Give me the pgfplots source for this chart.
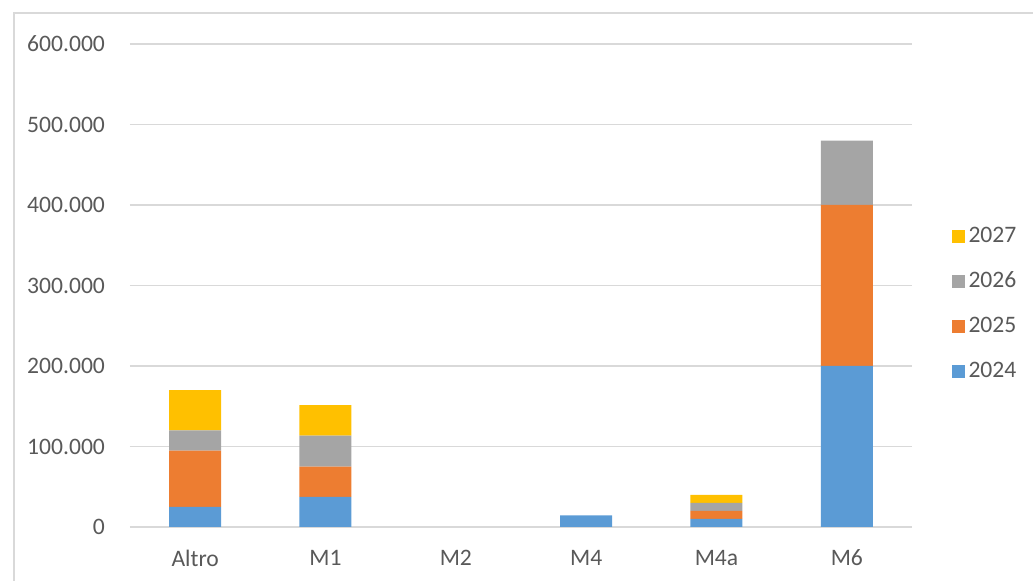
\documentclass[border=0pt]{standalone}
\usepackage{pgfplots}
\pgfplotsset{compat=1.18}
\usepackage{fontspec}
\setmainfont{Carlito}
\definecolor{c24}{HTML}{5B9BD5}
\definecolor{c25}{HTML}{ED7D31}
\definecolor{c26}{HTML}{A5A5A5}
\definecolor{c27}{HTML}{FFC000}
\definecolor{gridc}{HTML}{D9D9D9}
\definecolor{txt}{HTML}{595959}
\begin{document}
\begin{tikzpicture}[font=\fontsize{11.8}{14}\selectfont]
\useasboundingbox (0,0) rectangle (516.5pt,290.5pt);
\begin{scope}[overlay]
\clip (0,0) rectangle (516.5pt,290.5pt);
\draw[gridc, line width=0.8pt] (7pt,-10pt) -- (7pt,284pt) -- (530pt,284pt);
\begin{axis}[
  at={(65pt,27pt)}, anchor=south west,
  scale only axis, width=391pt, height=241.5pt,
  ybar stacked, bar width=26pt,
  xmin=-0.5, xmax=5.5, ymin=0, ymax=600000,
  xtick=data, xticklabels={Altro,M1,M2,M4,M4a,M6},
  ytick={0,100000,200000,300000,400000,500000,600000},
  yticklabels={0,100.000,200.000,300.000,400.000,500.000,600.000},
  scaled y ticks=false,
  major tick length=0pt,
  axis x line*=bottom, axis y line*=left,
  axis line style={gridc, line width=0.8pt},
  x axis line style={-},
  y axis line style={draw=none},
  ymajorgrids, grid style={gridc, line width=0.8pt},
  tick label style={text=txt, font=\fontsize{11.8}{14}\selectfont},
  yticklabel style={anchor=east, xshift=-9pt},
  xticklabel style={yshift=-8pt},
  reverse legend,
  legend style={draw=none, at={(1.05,0.462)}, anchor=west, text=txt,
    font=\fontsize{11.8}{14}\selectfont, row sep=9.3pt, inner sep=0pt},
  legend cell align=left,
  legend image code/.code={\fill[#1] (0pt,-3.25pt) rectangle (6.5pt,3.25pt);},
]
\addplot[fill=c24, draw=none] coordinates {(0,25000) (1,37500) (2,0) (3,14500) (4,10000) (5,200000)};
\addlegendentry{2024}
\addplot[fill=c25, draw=none] coordinates {(0,70000) (1,37500) (2,0) (3,0) (4,10000) (5,200000)};
\addlegendentry{2025}
\addplot[fill=c26, draw=none] coordinates {(0,25000) (1,38500) (2,0) (3,0) (4,10000) (5,80000)};
\addlegendentry{2026}
\addplot[fill=c27, draw=none] coordinates {(0,50000) (1,38000) (2,0) (3,0) (4,10000) (5,0)};
\addlegendentry{2027}
\end{axis}
\end{scope}
\end{tikzpicture}
\end{document}
